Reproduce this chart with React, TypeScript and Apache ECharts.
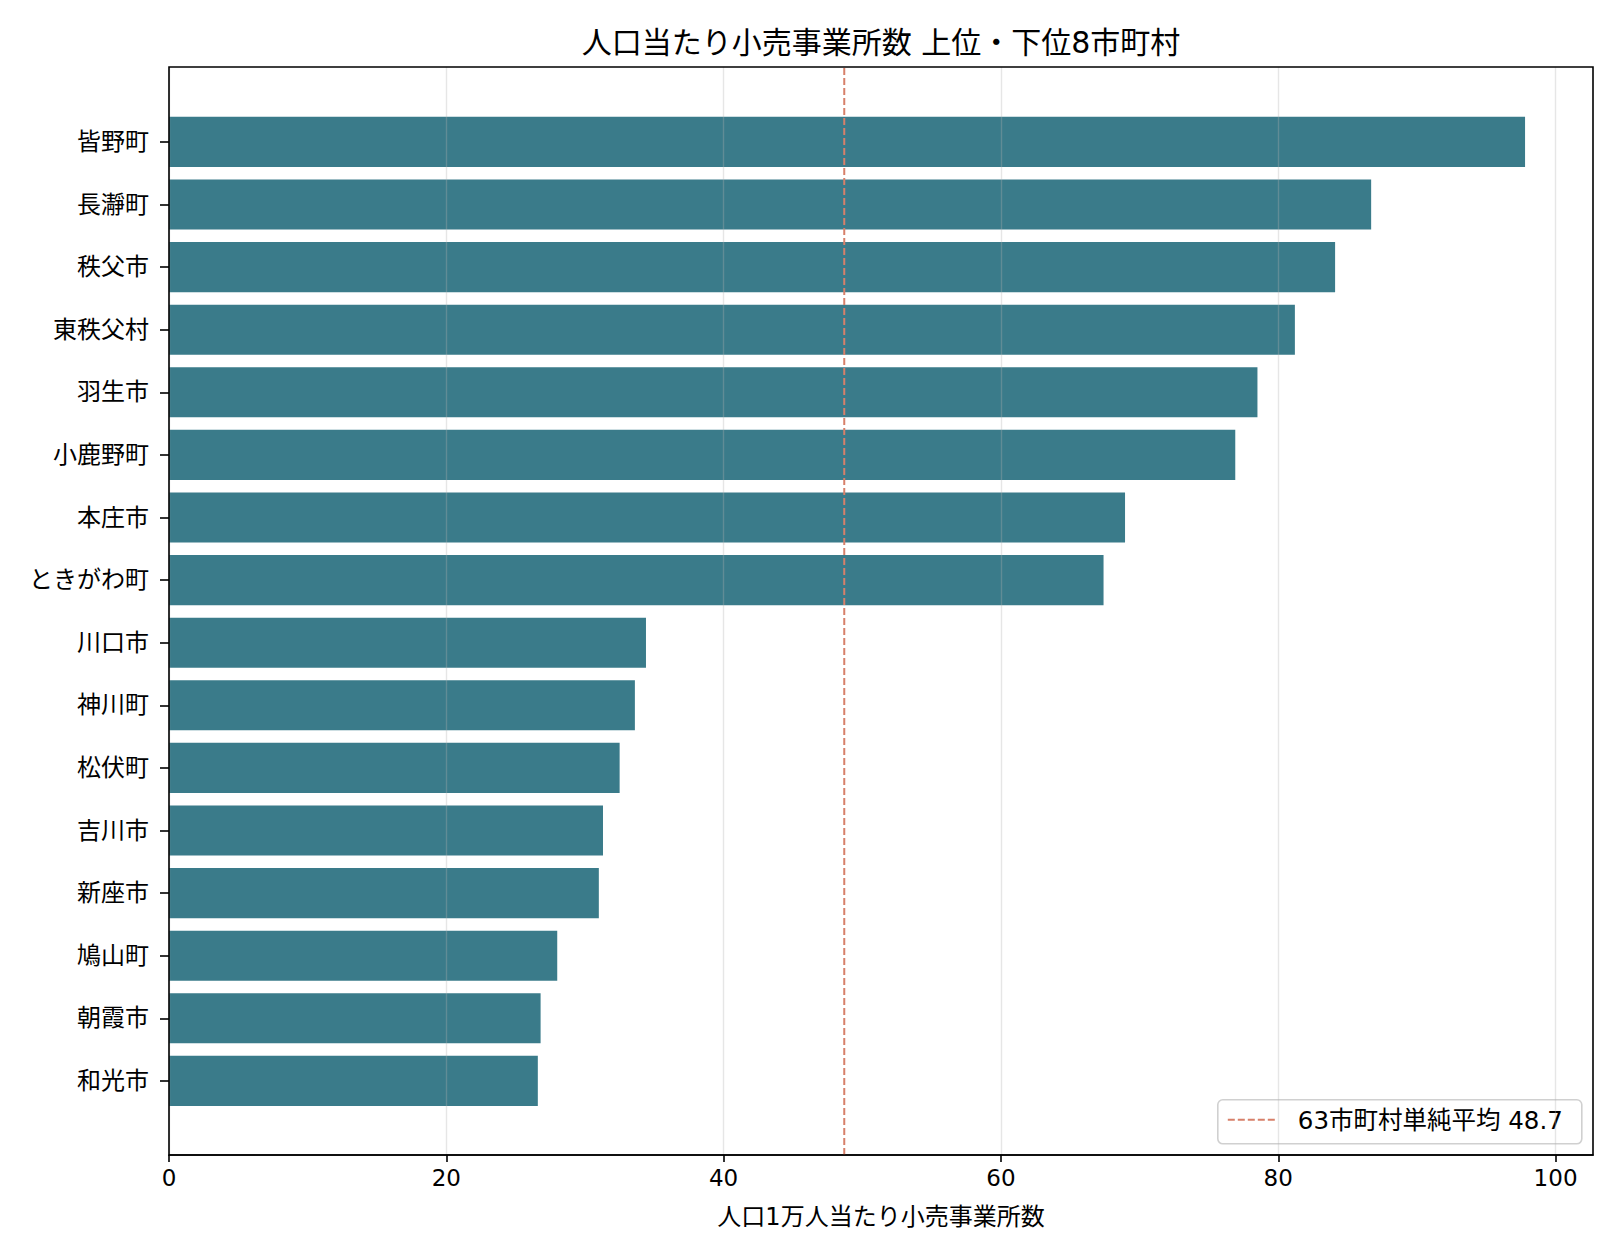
import React, { useEffect, useRef } from "react";
import * as echarts from "echarts";

const TITLE = "人口当たり小売事業所数 上位・下位8市町村";
const X_NAME = "人口1万人当たり小売事業所数";
const CATEGORIES = [
  "皆野町", "長瀞町", "秩父市", "東秩父村", "羽生市", "小鹿野町", "本庄市", "ときがわ町",
  "川口市", "神川町", "松伏町", "吉川市", "新座市", "鳩山町", "朝霞市", "和光市",
];
const VALUES = [97.8, 86.7, 84.1, 81.2, 78.5, 76.9, 68.95, 67.4, 34.4, 33.6, 32.5, 31.3, 31.0, 28.0, 26.8, 26.6];
const MEAN_VALUE = 48.7;
const MEAN_LABEL = "63市町村単純平均 48.7";
const X_TICKS = [0, 20, 40, 60, 80, 100];
const X_MAX = 102.7;

const FONT = "'DejaVu Sans', 'Noto Sans CJK JP', sans-serif";
const BAR_COLOR = "#3a7b8a";
const MEAN_COLOR = "#d7806a";

export default function App() {
  const ref = useRef<HTMLDivElement>(null);
  useEffect(() => {
    document.body.style.margin = "0";
    const chart = echarts.init(ref.current!, null, { renderer: "svg" });
    const frameLeft = 169;
    const frameTop = 67;
    const frameRight = 1620 - 1593;
    const frameHeight = 1088;
    const pitch = 62.6;
    const firstCenter = 141.9;
    const barsTop = firstCenter - pitch / 2;
    const barsHeight = pitch * CATEGORIES.length;

    const option: any = {
      animation: false,
      backgroundColor: "#ffffff",
      textStyle: { fontFamily: FONT },
      title: {
        text: TITLE,
        left: 876,
        textAlign: "center",
        top: 22,
        textStyle: { fontSize: 30, fontWeight: "normal", color: "#000", fontFamily: FONT },
      },
      grid: [
        {
          left: frameLeft,
          right: frameRight,
          top: frameTop,
          height: frameHeight,
          show: true,
          borderColor: "#000",
          borderWidth: 1.6,
          backgroundColor: "transparent",
          z: 10,
        },
        {
          left: frameLeft,
          right: frameRight,
          top: barsTop,
          height: barsHeight,
        },
      ],
      xAxis: [
        {
          gridIndex: 0,
          type: "value",
          min: 0,
          max: X_MAX,
          interval: 20,
          z: 5,
          name: X_NAME,
          nameLocation: "middle",
          nameGap: 50,
          nameTextStyle: { fontSize: 24, color: "#000", fontFamily: FONT },
          axisLine: { show: true, lineStyle: { color: "#000", width: 1.6 } },
          axisTick: {
            show: true,
            length: 7,
            lineStyle: { color: "#000", width: 1.6 },
            customValues: X_TICKS,
          },
          axisLabel: {
            fontSize: 23,
            color: "#000",
            margin: 11,
            fontFamily: FONT,
            customValues: X_TICKS,
          },
          splitLine: { show: true, lineStyle: { color: "rgba(176,176,176,0.32)", width: 1.4 } },
        },
        {
          gridIndex: 1,
          type: "value",
          min: 0,
          max: X_MAX,
          show: false,
        },
      ],
      yAxis: [
        {
          gridIndex: 0,
          type: "value",
          min: 0,
          max: 1,
          show: false,
        },
        {
          gridIndex: 1,
          type: "category",
          data: CATEGORIES,
          inverse: true,
          axisLine: { show: false },
          axisTick: {
            show: true,
            alignWithLabel: true,
            length: 9,
            lineStyle: { color: "#000", width: 1.6 },
          },
          axisLabel: { fontSize: 24, color: "#000", margin: 20, fontFamily: FONT },
          splitLine: { show: false },
        },
      ],
      series: [
        {
          type: "bar",
          xAxisIndex: 1,
          yAxisIndex: 1,
          data: VALUES,
          barWidth: "80%",
          itemStyle: { color: BAR_COLOR },
          z: 2,
        },
        {
          type: "line",
          name: MEAN_LABEL,
          xAxisIndex: 0,
          yAxisIndex: 0,
          data: [
            [MEAN_VALUE, 0],
            [MEAN_VALUE, 1],
          ],
          symbol: "none",
          lineStyle: { color: MEAN_COLOR, width: 2, type: [7, 3] },
          z: 6,
        },
      ],
      graphic: [
        {
          type: "group",
          left: 1217,
          top: 1099,
          z: 100,
          children: [
            {
              type: "rect",
              shape: { x: 0, y: 0, width: 364, height: 44, r: 5 },
              style: { fill: "rgba(255,255,255,0.85)", stroke: "#d0d0d0", lineWidth: 1.6 },
            },
            {
              type: "line",
              shape: { x1: 10, y1: 20, x2: 60, y2: 20 },
              style: { stroke: MEAN_COLOR, lineWidth: 2, lineDash: [7, 3] },
            },
            {
              type: "text",
              x: 80,
              y: 21,
              style: {
                text: MEAN_LABEL,
                fontSize: 24.5,
                fill: "#000",
                fontFamily: FONT,
                verticalAlign: "middle",
                align: "left",
              },
            },
          ],
        },
      ],
    };
    chart.setOption(option);
    return () => chart.dispose();
  }, []);
  return <div ref={ref} style={{ width: 1620, height: 1260 }} />;
}
